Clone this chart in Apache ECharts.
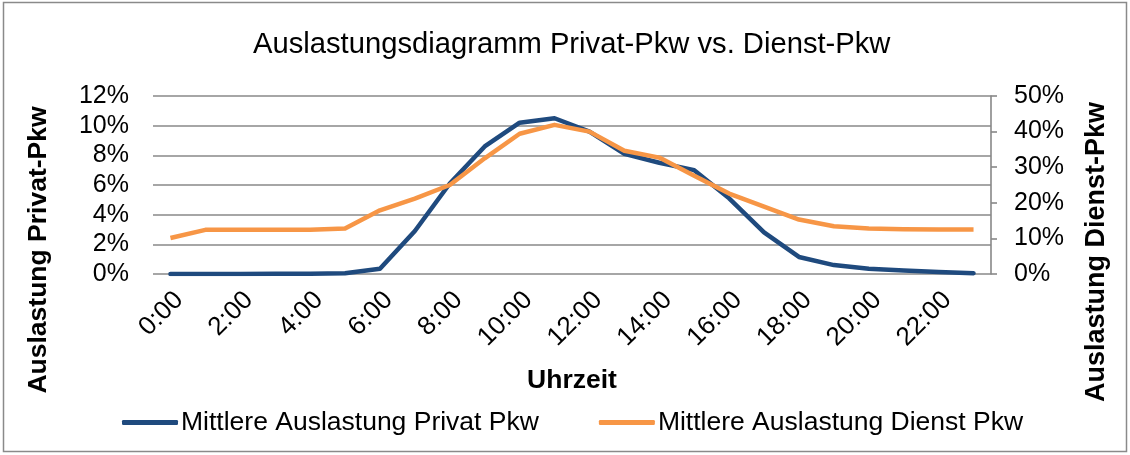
<!DOCTYPE html>
<html>
<head>
<meta charset="utf-8">
<script src="https://cdn.jsdelivr.net/npm/echarts@6/dist/echarts.min.js"></script>
<style>
html,body{margin:0;padding:0;background:#fff;}
#c{width:1130px;height:455px;}
</style>
</head>
<body>
<div id="c"></div>
<script>
const hours = ['0:00','1:00','2:00','3:00','4:00','5:00','6:00','7:00','8:00','9:00','10:00','11:00',
               '12:00','13:00','14:00','15:00','16:00','17:00','18:00','19:00','20:00','21:00','22:00','23:00'];
const labelHours = [0, 2, 4, 6, 8, 10, 12, 14, 16, 18, 20, 22];
// Mittlere Auslastung Privat Pkw (left axis, %)
const privat = [0.0, 0.0, 0.0, 0.02, 0.02, 0.05, 0.35, 2.9, 6.1, 8.6, 10.2, 10.5,
                9.6, 8.1, 7.5, 7.0, 5.1, 2.8, 1.15, 0.6, 0.36, 0.23, 0.14, 0.05];
// Mittlere Auslastung Dienst Pkw (right axis, %)
const dienst = [10.1, 12.4, 12.4, 12.4, 12.4, 12.8, 17.9, 21.2, 25.0, 32.5, 39.4, 41.9,
                40.0, 34.6, 32.7, 27.6, 22.6, 18.9, 15.3, 13.4, 12.8, 12.6, 12.5, 12.5];
const leftTicks = {min: 0, max: 12, interval: 2};
const rightTicks = {min: 0, max: 50, interval: 10};

const FONT = 'Liberation Sans, Arial, sans-serif';
const GRID = '#888888';
const LABEL_SHIFT = 0.25; // labels sit a little right of the category centre, like Excel
const chart = echarts.init(document.getElementById('c'), null, {renderer: 'canvas'});
chart.setOption({
  animation: false,
  backgroundColor: '#ffffff',
  textStyle: {fontFamily: FONT, color: '#000'},
  title: {
    text: 'Auslastungsdiagramm Privat-Pkw vs. Dienst-Pkw',
    left: 248, top: 25,
    textStyle: {fontFamily: FONT, fontSize: 29.2, fontWeight: 'normal', color: '#000'}
  },
  legend: {
    left: 117, top: 404,
    itemWidth: 56, itemHeight: 5, itemGap: 60,
    icon: 'roundRect',
    textStyle: {fontFamily: FONT, fontSize: 26.5, color: '#000', padding: [0,0,0,-2]},
    data: ['Mittlere Auslastung Privat Pkw', 'Mittlere Auslastung Dienst Pkw']
  },
  grid: {left: 153, right: 139, top: 96, bottom: 181, containLabel: false},
  xAxis: [
    {
      type: 'category', data: hours, boundaryGap: true,
      axisLine: {show: false},
      axisTick: {show: false},
      axisLabel: {show: false}
    },
    {
      type: 'value', position: 'bottom',
      min: -0.5 - LABEL_SHIFT, max: hours.length - 0.5 - LABEL_SHIFT,
      axisLine: {show: false}, axisTick: {show: false}, splitLine: {show: false},
      axisLabel: {
        customValues: labelHours, rotate: 45, fontSize: 26, fontFamily: FONT, color: '#000', margin: 22,
        formatter: v => hours[Math.round(v)]
      }
    }
  ],
  yAxis: [
    {
      type: 'value', position: 'left', min: leftTicks.min, max: leftTicks.max, interval: leftTicks.interval,
      axisLine: {show: false},
      axisTick: {show: false},
      splitLine: {show: true, lineStyle: {color: GRID, width: 1.6}},
      axisLabel: {formatter: '{value}%', fontSize: 25, fontFamily: FONT, color: '#000', margin: 24}
    },
    {
      type: 'value', position: 'right', min: rightTicks.min, max: rightTicks.max, interval: rightTicks.interval,
      axisLine: {show: true, lineStyle: {color: GRID, width: 1.6}},
      axisTick: {show: true, inside: false, length: 6, lineStyle: {color: GRID, width: 1.6}},
      splitLine: {show: false},
      axisLabel: {formatter: '{value}%', fontSize: 25, fontFamily: FONT, color: '#000', margin: 23}
    }
  ],
  series: [
    {
      name: 'Mittlere Auslastung Privat Pkw', type: 'line', xAxisIndex: 0, yAxisIndex: 0, data: privat,
      showSymbol: false, symbol: 'none', smooth: false, z: 3,
      lineStyle: {color: '#1F4A7E', width: 4.5, cap: 'round', join: 'round'},
      itemStyle: {color: '#1F4A7E'}
    },
    {
      name: 'Mittlere Auslastung Dienst Pkw', type: 'line', xAxisIndex: 0, yAxisIndex: 1, data: dienst,
      showSymbol: false, symbol: 'none', smooth: false, z: 4,
      lineStyle: {color: '#F79646', width: 4.5, cap: 'butt', join: 'round'},
      itemStyle: {color: '#F79646'}
    }
  ],
  graphic: [
    {type: 'rect', shape: {x: 3.5, y: 2.5, width: 1123, height: 449}, silent: true,
     style: {fill: 'none', stroke: '#8a8a8a', lineWidth: 1.5}, z: -1},
    {type: 'text', x: 39, y: 250, rotation: Math.PI/2,
     style: {text: 'Auslastung Privat-Pkw', font: 'bold 26.5px ' + FONT, fill: '#000', align: 'center', verticalAlign: 'middle'}},
    {type: 'text', x: 1097, y: 252, rotation: Math.PI/2,
     style: {text: 'Auslastung Dienst-Pkw', font: 'bold 27px ' + FONT, fill: '#000', align: 'center', verticalAlign: 'middle'}},
    {type: 'text', x: 572, y: 381,
     style: {text: 'Uhrzeit', font: 'bold 26.5px ' + FONT, fill: '#000', align: 'center', verticalAlign: 'middle'}}
  ]
});
</script>
</body>
</html>
